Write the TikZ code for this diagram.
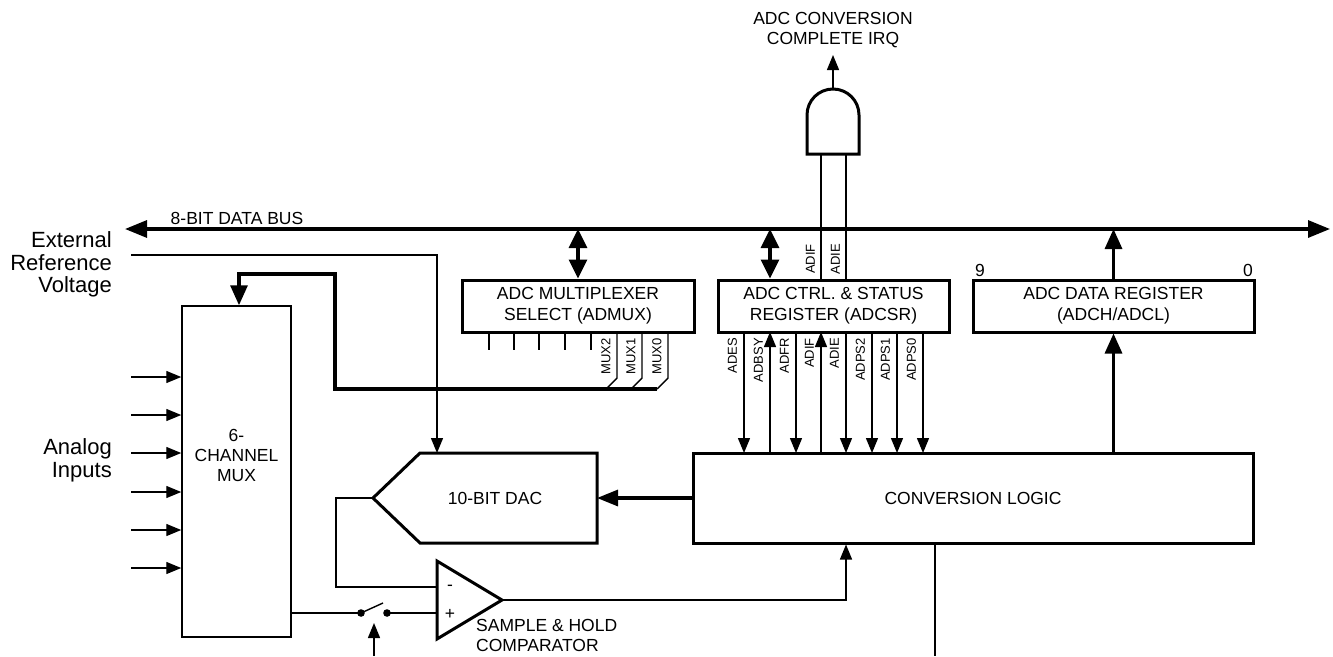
\documentclass[tikz,border=0pt]{standalone}
\usepackage{fontspec}
\setmainfont{Liberation Sans}
\usetikzlibrary{arrows.meta}
\begin{document}
\begin{tikzpicture}[x=1pt,y=-1pt,
  thickln/.style={line width=3.2pt},
  thinln/.style={line width=1.4pt},
  boxst/.style={draw, line width=3pt, inner sep=0pt, align=center,
    font=\fontsize{17.5}{21}\selectfont},
  lbl/.style={inner sep=0pt, font=\fontsize{17.5}{20}\selectfont, align=center},
  biglbl/.style={inner sep=0pt, font=\fontsize{22}{22.5}\selectfont, align=right, anchor=east},
  bitlbl/.style={inner sep=0pt, font=\fontsize{13}{13}\selectfont, rotate=90, anchor=east},
  bigtip/.style={-{Triangle[length=21pt,width=16pt]}},
  midtip/.style={-{Triangle[length=20pt,width=17pt]}},
  smalltip/.style={-{Triangle[length=15pt,width=12pt]}},
]
\useasboundingbox (0,0) rectangle (1333,656);

% ---------- boxes ----------
\node[boxst, minimum width=232pt, minimum height=52pt] (admux) at (578,306)
  {ADC MULTIPLEXER\\SELECT (ADMUX)};
\node[boxst, minimum width=231pt, minimum height=52pt] (adcsr) at (833.5,306)
  {ADC CTRL. \& STATUS\\REGISTER (ADCSR)};
\node[boxst, minimum width=281pt, minimum height=52pt] (adcdata) at (1113.5,306)
  {ADC DATA REGISTER\\(ADCH/ADCL)};
\node[boxst, minimum width=560pt, minimum height=90pt] (conv) at (973,498)
  {CONVERSION LOGIC};
\node[draw, line width=1.5pt, minimum width=109pt, minimum height=331pt, inner sep=0pt]
  (mux) at (236.5,471.5) {};
\node[lbl] (muxlbl) at (236.5,455) {6-\\CHANNEL\\MUX};

\node[lbl] (nine) at (980,270) {9};
\node[lbl] (zero) at (1248,270) {0};

% ---------- data bus ----------
\coordinate (busL) at (125,229);
\coordinate (busR) at (1330,229);
\draw[thickln, {Triangle[length=22pt,width=17pt]}-{Triangle[length=22pt,width=17pt]}] (busL) -- (busR);
\node[lbl] (buslbl) at (237,218) {8-BIT DATA BUS};

\draw[thickln, {Triangle[length=19pt,width=18pt]}-{Triangle[length=19pt,width=18pt]}]
  (578,229) -- (admux.north);
\draw[thickln, {Triangle[length=19pt,width=18pt]}-{Triangle[length=19pt,width=18pt]}]
  (770,229) -- (adcsr.north -| 770,0);
\draw[thickln, midtip] (adcdata.north) -- (adcdata.north |- busL);
\draw[thickln, midtip] (conv.north -| adcdata.north) -- (adcdata.south);

% ---------- AND gate ----------
\coordinate (gOut) at (833,89);
\coordinate (gBL) at (807,154);
\coordinate (gBR) at (859,154);
\draw[line width=3pt, line join=miter] (gBL) -- (807,115)
  .. controls (807,100.6) and (818.6,89) .. (gOut)
  .. controls (847.4,89) and (859,100.6) .. (859,115) -- (gBR) -- cycle;
\coordinate (irqTip) at (833,55);
\draw[thinln, smalltip] (gOut) -- (irqTip);
\node[lbl] (irq) at (833,30) {ADC CONVERSION\\COMPLETE IRQ};
\draw[thinln] (adcsr.north -| 821,0) -- (821,154);
\draw[thinln] (adcsr.north -| 846,0) -- (846,154);
\node[bitlbl] at (810.5,244) {ADIF};
\node[bitlbl] at (835.5,244) {ADIE};

% ---------- ADCSR bits ----------
\foreach \x/\t/\d in {744/ADES/1, 770/ADBSY/0, 796/ADFR/1, 821/ADIF/0, 846/ADIE/1,
                      872/ADPS2/1, 897/ADPS1/1, 923/ADPS0/1}{
  \coordinate (bt\x) at (\x,332);
  \coordinate (bb\x) at (\x,453);
  \ifnum\d=1
    \draw[thinln, smalltip] (bt\x) -- (bb\x);
  \else
    \draw[thinln, smalltip] (bb\x) -- (bt\x);
  \fi
  \node[bitlbl] at (\x-11.5,338) {\t};
}

% ---------- ADMUX bits ----------
\foreach \x in {489,514,539,565,591}{
  \draw[thinln] (\x,332) -- (\x,350);
}
\foreach \x/\t in {617/MUX2,642/MUX1,668/MUX0}{
  \draw[thinln] (\x,332) -- (\x,378) -- (\x-11,389);
  \node[bitlbl] at (\x-11,338) {\t};
}
\coordinate (selEnd) at (657,389);
\draw[thickln, midtip] (selEnd) -- (335,389) -- (335,274) -- (239,274) -- (mux.north -| 239,0);

% ---------- left labels ----------
\node[biglbl] (extref) at (112,264.5) {External\\Reference\\Voltage};
\node[biglbl] (analog) at (112,460.5) {Analog\\Inputs};
\foreach \y in {377,415,453,492,530,568}{
  \draw[thinln, smalltip] (131,\y) -- (mux.west |- 0,\y);
}

% ---------- DAC ----------
\coordinate (dacTip) at (373,498);
\draw[line width=3pt, line join=miter] (dacTip) -- (420,453) -- (597,453) -- (597,543) -- (420,543) -- cycle;
\node[lbl] (daclbl) at (495,498) {10-BIT DAC};
\coordinate (dacE) at (597,498);
\draw[thickln, bigtip] (conv.west) -- (dacE);
\draw[thinln, smalltip] (131,255) -- (437,255) -- (437,453);

% ---------- comparator ----------
\coordinate (cmpTip) at (502,600);
\draw[line width=3pt, line join=miter] (437,561) -- (cmpTip) -- (437,639) -- cycle;
\node[lbl] at (450,588) {-};
\node[lbl] at (450,614) {+};
\node[lbl, align=left, anchor=west] (shlbl) at (476,635.5) {SAMPLE \& HOLD\\COMPARATOR};
\draw[thinln] (dacTip) -- (336,498) -- (336,587) -- (437,587);
\draw[thinln, smalltip] (cmpTip) -- (846,600) -- (conv.south -| 846,0);
\draw[thinln] (conv.south -| 935,0) -- (935,656);

% ---------- switch ----------
\coordinate (swA) at (361,613);
\coordinate (swB) at (387,613);
\draw[thinln] (mux.east |- swA) -- (swA);
\draw[thinln] (swB) -- (437,613);
\draw[thinln] (swA) -- (383,603);
\fill (swA) circle (3.8pt);
\fill (swB) circle (3.8pt);
\draw[thinln, smalltip] (374,656) -- (374,623);
\end{tikzpicture}
\end{document}
